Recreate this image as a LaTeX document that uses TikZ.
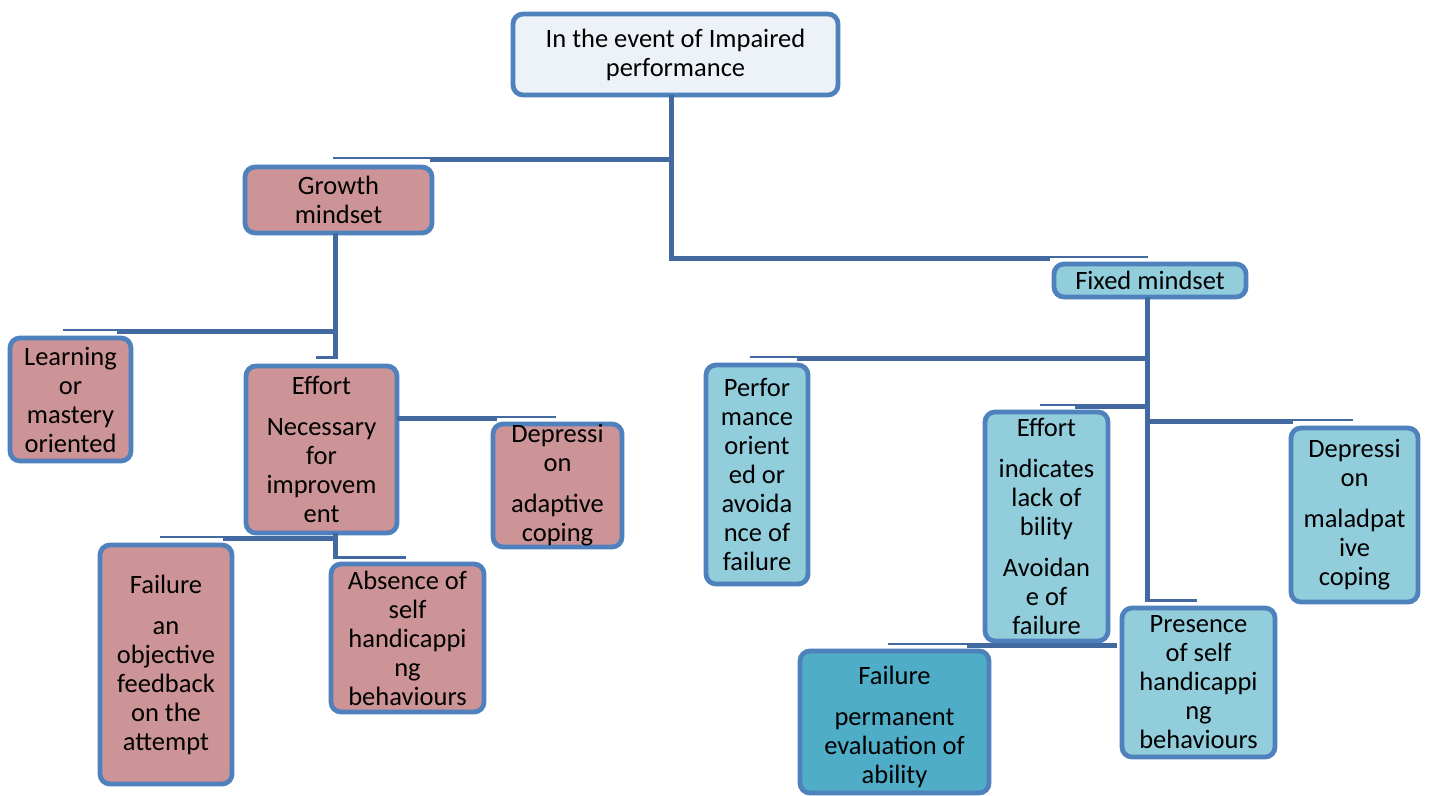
\documentclass[tikz,border=0pt]{standalone}
\usepackage{fontspec}
\setmainfont{Carlito}

\definecolor{frame}{RGB}{79,129,189}
\definecolor{wire}{RGB}{66,106,160}
\definecolor{paleblue}{RGB}{237,241,248}
\definecolor{rose}{RGB}{205,148,151}
\definecolor{sky}{RGB}{146,205,220}
\definecolor{deepsky}{RGB}{79,173,199}

\tikzset{
  box/.style={draw=frame, line width=4.8pt, rounded corners=10pt, align=center,
    inner sep=0pt, outer sep=0pt, font=\fontsize{26.5}{29}\selectfont},
  rootbox/.style={box, fill=paleblue},
  growbox/.style={box, fill=rose},
  fixbox/.style={box, fill=sky},
  fixdeep/.style={box, fill=deepsky},
  wire/.style={draw=wire, line width=5pt, line join=miter},
  wiremid/.style={draw=wire, line width=3pt},
  wirethin/.style={draw=wire, line width=2pt},
}

\begin{document}
\begin{tikzpicture}[x=1pt,y=-1pt]
\fill[white] (0,0) rectangle (1429,795);
\useasboundingbox (0,0) rectangle (1429,795);

% ---- boxes ----
\node[rootbox, minimum width=325, minimum height=81] (root) at (675.5,54.5)
  {In the event of Impaired\\performance};

\node[growbox, minimum width=187, minimum height=66] (growth) at (338.5,200)
  {Growth\\mindset};
\node[growbox, minimum width=121, minimum height=123] (learn) at (70.5,399.5)
  {Learning\\or\\mastery\\oriented};
\node[growbox, minimum width=151, minimum height=167] (geffort) at (321.5,449.5)
  {Effort\\[12pt]Necessary\\for\\improvem\\ent};
\node[growbox, minimum width=129, minimum height=123] (gdep) at (557.5,485.5)
  {Depressi\\on\\[12pt]adaptive\\coping};
\node[growbox, minimum width=132, minimum height=239] (gfail) at (166,664.5)
  {Failure\\[12pt]an\\objective\\feedback\\on the\\attempt};
\node[growbox, minimum width=153, minimum height=148] (absence) at (407.5,638)
  {Absence of\\self\\handicappi\\ng\\behaviours};

\node[fixbox, minimum width=192, minimum height=33] (fixed) at (1150,280.5)
  {Fixed mindset};
\node[fixbox, minimum width=102, minimum height=219] (perf) at (757,474.5)
  {Perfor\\mance\\orient\\ed or\\avoida\\nce of\\failure};
\node[fixbox, minimum width=123, minimum height=229] (feffort) at (1046.5,526.5)
  {Effort\\[12pt]indicates\\lack of\\bility\\[12pt]Avoidan\\e of\\failure};
\node[fixbox, minimum width=127, minimum height=174] (fdep) at (1354.5,515)
  {Depressi\\on\\[12pt]maladpat\\ive\\coping};
\node[fixbox, minimum width=153, minimum height=149] (presence) at (1198.5,682.5)
  {Presence\\of self\\handicappi\\ng\\behaviours};
\node[fixdeep, minimum width=189, minimum height=142] (ffail) at (894.5,722)
  {\rule{0pt}{29pt}Failure\\[12pt]permanent\\evaluation of\\ability};

% ---- junction points ----
\coordinate (rA) at (671.5,159);
\coordinate (rB) at (671.5,258);
\coordinate (rG) at (430,159);
\coordinate (rGt) at (333,159);
\coordinate (rF) at (1050,258);
\coordinate (rFt) at (1148,258);

\coordinate (gA) at (335,331);
\coordinate (gB) at (335,357);
\coordinate (gC) at (316,357);
\coordinate (gL) at (117,331);
\coordinate (gLt) at (63,331);

\coordinate (eR) at (497,418);
\coordinate (eRt) at (556,418);
\coordinate (eA) at (335,538);
\coordinate (eB) at (335,557);
\coordinate (eL) at (223,538);
\coordinate (eLt) at (160,538);
\coordinate (eC) at (406,557);

\coordinate (fA) at (1147,358);
\coordinate (fB) at (1147,406);
\coordinate (fC) at (1147,421);
\coordinate (fD) at (1147,600);
\coordinate (fE) at (1197,600);
\coordinate (fP) at (797,358);
\coordinate (fPt) at (750,358);
\coordinate (fQ) at (1075,406);
\coordinate (fQt) at (1040,406);
\coordinate (fR) at (1293,421);
\coordinate (fRt) at (1353,421);

\coordinate (xA) at (1117,645);
\coordinate (xB) at (967,645);
\coordinate (xBt) at (888,645);

% ---- connectors ----
% root
\draw[wire] (root.south -| rA) -- (rB) -- (rF);
\draw[wire] (rA) -- (rG);
\draw[wirethin] ([yshift=1.5pt]rG) -- ([yshift=1.5pt]rGt);
\draw[wirethin] ([yshift=1.5pt]rF) -- ([yshift=1.5pt]rFt);

% growth mindset
\draw[wire] (growth.south -| gA) -- (gB);
\draw[wiremid] ([xshift=2.5pt]gB) -- (gC);
\draw[wire] (gA) -- (gL);
\draw[wirethin] ([yshift=1.5pt]gL) -- ([yshift=1.5pt]gLt);

% effort (growth)
\draw[wire] (geffort.east |- eR) -- (eR);
\draw[wirethin] ([yshift=1.5pt]eR) -- ([yshift=1.5pt]eRt);
\draw[wire] (geffort.south -| eA) -- (eB);
\draw[wiremid] ([xshift=-2.5pt]eB) -- (eC);
\draw[wire] (eA) -- (eL);
\draw[wirethin] ([yshift=1.5pt]eL) -- ([yshift=1.5pt]eLt);

% fixed mindset
\draw[wire] (fixed.south -| fA) -- (fD);
\draw[wiremid] ([xshift=-2.5pt]fD) -- (fE);
\draw[wire] (fA) -- (fP);
\draw[wirethin] ([yshift=1.5pt]fP) -- ([yshift=1.5pt]fPt);
\draw[wire] (fB) -- (fQ);
\draw[wirethin] ([yshift=1.5pt]fQ) -- ([yshift=1.5pt]fQt);
\draw[wire] (fC) -- (fR);
\draw[wirethin] ([yshift=1.5pt]fR) -- ([yshift=1.5pt]fRt);

% effort (fixed)
\draw[wire] (xA) -- (xB);
\draw[wirethin] ([yshift=1.5pt]xB) -- ([yshift=1.5pt]xBt);
\end{tikzpicture}
\end{document}
